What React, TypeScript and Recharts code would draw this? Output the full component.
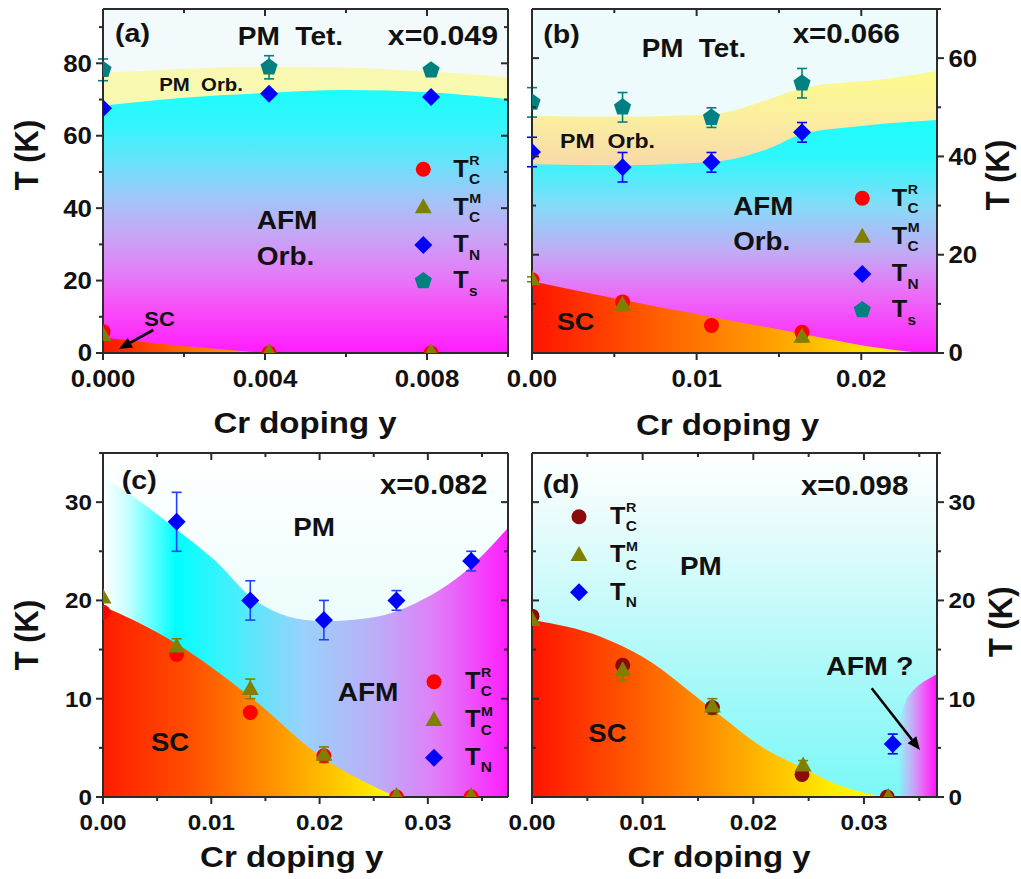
import React from 'react';
import { ComposedChart, XAxis, YAxis, Area, Scatter, ErrorBar, CartesianGrid } from 'recharts';

const PAGE_W = 1021;
const PAGE_H = 879;
const FONT = "'Liberation Sans', Arial, Helvetica, sans-serif";
const INK = '#111';
const FRAME = '#2b2b2b';

type Pt = { x: number; T: number; err?: number };

// ---------------- panel (a): x = 0.049 ----------------
const aTcR: Pt[] = [{ x: 0, T: 5.9 }, { x: 0.0041, T: 0 }, { x: 0.0081, T: 0 }];
const aTcM: Pt[] = [{ x: 0, T: 5 }, { x: 0.0041, T: 0.3 }, { x: 0.0081, T: 0.3 }];
const aTN: Pt[] = [{ x: 0, T: 67.6 }, { x: 0.0041, T: 71.6 }, { x: 0.0081, T: 70.7 }];
const aTs: Pt[] = [{ x: 0, T: 78.2, err: 3 }, { x: 0.0041, T: 78.9, err: 3.2 }, { x: 0.0081, T: 78.1, err: 1.2 }];
const aTsBound: Pt[] = [{ x: 0, T: 77.3 }, { x: 0.002, T: 78.5 }, { x: 0.004, T: 79 }, { x: 0.006, T: 78.8 }, { x: 0.008, T: 77.8 }, { x: 0.01, T: 76.2 }];
const aTNBound: Pt[] = [{ x: 0, T: 68.3 }, { x: 0.002, T: 70.5 }, { x: 0.004, T: 71.8 }, { x: 0.006, T: 72.6 }, { x: 0.008, T: 72 }, { x: 0.01, T: 70.1 }];
const aSCBound: Pt[] = [{ x: 0, T: 4.3 }, { x: 0.002, T: 1.9 }, { x: 0.004, T: 0 }];
const aXTicks = [0, 0.002, 0.004, 0.006, 0.008, 0.01];
const aXMajor = [0, 0.004, 0.008];
const aYTicks = [0, 10, 20, 30, 40, 50, 60, 70, 80, 90];
const aYMajor = [0, 20, 40, 60, 80];

// ---------------- panel (b): x = 0.066 ----------------
const bTcR: Pt[] = [{ x: 0, T: 14.9 }, { x: 0.0055, T: 10.4 }, { x: 0.0109, T: 5.6 }, { x: 0.0164, T: 4.2 }];
const bTcM: Pt[] = [{ x: 0, T: 15, err: 0.5 }, { x: 0.0055, T: 9.8, err: 1.2 }, { x: 0.0164, T: 3.3, err: 1 }];
const bTN: Pt[] = [{ x: 0, T: 40.9, err: 3 }, { x: 0.0055, T: 37.8, err: 3 }, { x: 0.0109, T: 38.8, err: 2 }, { x: 0.0164, T: 44.9, err: 2 }];
const bTs: Pt[] = [{ x: 0, T: 51, err: 3 }, { x: 0.0055, T: 50, err: 3 }, { x: 0.0109, T: 47.9, err: 2 }, { x: 0.0164, T: 54.9, err: 3 }];
const bTsBound: Pt[] = [{ x: 0, T: 48.3 }, { x: 0.0055, T: 48.1 }, { x: 0.011, T: 48.6 }, { x: 0.0143, T: 51.5 }, { x: 0.0164, T: 53.9 }, { x: 0.0218, T: 55.9 }, { x: 0.0246, T: 57.4 }];
const bTNBound: Pt[] = [{ x: 0, T: 38.4 }, { x: 0.0055, T: 38.2 }, { x: 0.011, T: 38.9 }, { x: 0.0143, T: 41.5 }, { x: 0.0164, T: 44.5 }, { x: 0.02, T: 46.2 }, { x: 0.0246, T: 47.4 }];
const bSCBound: Pt[] = [{ x: 0, T: 14.6 }, { x: 0.0055, T: 10.8 }, { x: 0.011, T: 7.3 }, { x: 0.0164, T: 3.9 }, { x: 0.02, T: 1.6 }, { x: 0.0236, T: 0 }];
const bXTicks = [0, 0.005, 0.01, 0.015, 0.02];
const bXMajor = [0, 0.01, 0.02];
const bYTicks = [0, 10, 20, 30, 40, 50, 60, 70];
const bYMajor = [0, 20, 40, 60];

// ---------------- panel (c): x = 0.082 ----------------
const cTcR: Pt[] = [{ x: 0, T: 18.8 }, { x: 0.0068, T: 14.5 }, { x: 0.0136, T: 8.6 }, { x: 0.0204, T: 4.2 }, { x: 0.0271, T: 0 }, { x: 0.034, T: 0 }];
const cTcM: Pt[] = [{ x: 0, T: 20.3 }, { x: 0.0068, T: 15.3, err: 0.8 }, { x: 0.0136, T: 11, err: 1 }, { x: 0.0204, T: 4.3, err: 0.8 }, { x: 0.0271, T: 0.1 }, { x: 0.034, T: 0.1 }];
const cTN: Pt[] = [{ x: 0.0068, T: 28, err: 3 }, { x: 0.0136, T: 20, err: 2 }, { x: 0.0204, T: 18, err: 2 }, { x: 0.0271, T: 20, err: 1 }, { x: 0.034, T: 24, err: 1 }];
const cAFMBound: Pt[] = [{ x: 0, T: 32.5 }, { x: 0.0035, T: 30 }, { x: 0.0068, T: 27.2 }, { x: 0.0104, T: 24 }, { x: 0.0136, T: 20.4 }, { x: 0.017, T: 18.4 }, { x: 0.0204, T: 17.9 }, { x: 0.025, T: 18.3 }, { x: 0.029, T: 19.8 }, { x: 0.0336, T: 23.1 }, { x: 0.0374, T: 27.4 }];
const cSCBound: Pt[] = [{ x: 0, T: 19.4 }, { x: 0.0028, T: 18 }, { x: 0.0068, T: 15.6 }, { x: 0.0136, T: 10.2 }, { x: 0.0204, T: 3.9 }, { x: 0.0244, T: 1.4 }, { x: 0.0271, T: 0 }];
const cXTicks = [0, 0.005, 0.01, 0.015, 0.02, 0.025, 0.03, 0.035];
const cXMajor = [0, 0.01, 0.02, 0.03];
const cYTicks = [0, 5, 10, 15, 20, 25, 30, 35];
const cYMajor = [0, 10, 20, 30];

// ---------------- panel (d): x = 0.098 ----------------
const dTcR: Pt[] = [{ x: 0, T: 18.4 }, { x: 0.0082, T: 13.4 }, { x: 0.0163, T: 9.1 }, { x: 0.0244, T: 2.3 }, { x: 0.0321, T: 0 }];
const dTcM: Pt[] = [{ x: 0, T: 18 }, { x: 0.0082, T: 12.9, err: 1 }, { x: 0.0163, T: 9.2, err: 0.8 }, { x: 0.0245, T: 3.2, err: 0.5 }, { x: 0.0322, T: 0 }];
const dTN: Pt[] = [{ x: 0.0326, T: 5.4, err: 1 }];
const dSCBound: Pt[] = [{ x: 0, T: 18 }, { x: 0.0062, T: 16.3 }, { x: 0.0101, T: 14.2 }, { x: 0.0161, T: 9.1 }, { x: 0.0212, T: 4.8 }, { x: 0.0244, T: 3 }, { x: 0.0273, T: 1.4 }, { x: 0.0318, T: 0 }];
const dAFMBound: Pt[] = [{ x: 0.0331, T: 7.5 }, { x: 0.0338, T: 9.8 }, { x: 0.0345, T: 10.9 }, { x: 0.0355, T: 11.8 }, { x: 0.0366, T: 12.5 }];
const dXTicks = [0, 0.005, 0.01, 0.015, 0.02, 0.025, 0.03, 0.035];
const dXMajor = [0, 0.01, 0.02, 0.03];
const dYTicks = [0, 5, 10, 15, 20, 25, 30, 35];
const dYMajor = [0, 10, 20, 30];

// ---------------- colours ----------------
const RED = '#ff0000';
const DARKRED = '#8b0a0a';
const OLIVE = '#808000';
const BLUE = '#0000ff';
const TEAL = '#008080';

// ---------------- marker shapes ----------------
const circleAt = (c: string, cx: number, cy: number) => <circle cx={cx} cy={cy} r={7.5} fill={c} />;
const triAt = (c: string, cx: number, cy: number) => (
  <polygon points={`${cx},${cy - 9} ${cx - 8.5},${cy + 6} ${cx + 8.5},${cy + 6}`} fill={c} />
);
const diaAt = (c: string, cx: number, cy: number) => (
  <polygon points={`${cx},${cy - 9} ${cx + 9},${cy} ${cx},${cy + 9} ${cx - 9},${cy}`} fill={c} />
);
const pentAt = (c: string, cx: number, cy: number) => {
  const r = 9;
  const pts = [0, 1, 2, 3, 4]
    .map((k) => {
      const a = ((-90 + k * 72) * Math.PI) / 180;
      return `${cx + r * Math.cos(a)},${cy + r * Math.sin(a)}`;
    })
    .join(' ');
  return <polygon points={pts} fill={c} />;
};
type Drawer = (c: string, cx: number, cy: number) => React.ReactElement;
const shapeOf = (d: Drawer, c: string) => (p: any) => d(c, p.cx, p.cy);

// ---------------- helpers ----------------
function mergeBounds(areas: { key: string; pts: Pt[] }[]) {
  const map = new Map<number, any>();
  areas.forEach((a) =>
    a.pts.forEach((p) => {
      const row = map.get(p.x) ?? { x: p.x };
      row[a.key] = p.T;
      map.set(p.x, row);
    })
  );
  return Array.from(map.values()).sort((u, v) => u.x - v.x);
}

type Stop = [number, string] | [number, string, number];
const stopsOf = (stops: Stop[]) =>
  stops.map((s, i) => <stop key={i} offset={s[0]} stopColor={s[1]} stopOpacity={s.length > 2 ? (s as any)[2] : 1} />);
const vGrad = (id: string, stops: Stop[]) => (
  <linearGradient id={id} key={id} x1="0" y1="0" x2="0" y2="1">
    {stopsOf(stops)}
  </linearGradient>
);
const hGrad = (id: string, stops: Stop[]) => (
  <linearGradient id={id} key={id} x1="0" y1="0" x2="1" y2="0">
    {stopsOf(stops)}
  </linearGradient>
);

type Side = 'bottom' | 'top' | 'left' | 'right';
function mkTick(side: Side, majors: number[], labels: boolean, out: boolean, font: number, fmt: (v: number) => string) {
  return (props: any) => {
    const { x, y, payload } = props;
    const v = Number(payload?.value);
    const major = majors.some((m) => Math.abs(m - v) < 1e-9);
    const len = major ? 7 : 4;
    const s = out ? 1 : -1;
    let x2 = x;
    let y2 = y;
    if (side === 'bottom') y2 = y + s * len;
    else if (side === 'top') y2 = y - s * len;
    else if (side === 'left') x2 = x - s * len;
    else x2 = x + s * len;
    let label: React.ReactNode = null;
    if (labels && major) {
      let lx = x;
      let ly = y;
      let anchor: 'start' | 'middle' | 'end' = 'middle';
      if (side === 'bottom') ly = y + 17 + 0.716 * font;
      else if (side === 'left') {
        lx = x - 11;
        ly = y + 0.36 * font;
        anchor = 'end';
      } else if (side === 'right') {
        lx = x + 11.5;
        ly = y + 0.36 * font;
        anchor = 'start';
      }
      label = (
        <text transform={`translate(${lx} ${ly}) scale(1.1 1)`} textAnchor={anchor} fontFamily={FONT} fontWeight={700} fontSize={font} fill={INK}>
          {fmt(v)}
        </text>
      );
    }
    return (
      <g>
        <line x1={x} y1={y} x2={x2} y2={y2} stroke={FRAME} strokeWidth={2} />
        {label}
      </g>
    );
  };
}

interface AreaDef {
  key: string;
  pts: Pt[];
  fill: string;
}
interface SeriesDef {
  key: string;
  pts: Pt[];
  draw: Drawer;
  color: string;
  errColor?: string;
}
interface PanelDef {
  id: string;
  plot: { l: number; t: number; r: number; b: number };
  xDomain: [number, number];
  yDomain: [number, number];
  xTicks: number[];
  xMajor: number[];
  xDigits: number;
  yTicks: number[];
  yMajor: number[];
  labelSide: 'left' | 'right';
  tickFont: number;
  bg: string;
  defs: React.ReactNode[];
  areas: AreaDef[];
  series: SeriesDef[];
}

const LEFT_W = 40;
const RIGHT_W = 4;
const TOP_H = 4;
const BOTTOM_H = 30;
const AXIS_LINE = { stroke: FRAME, strokeWidth: 2 };

function Panel({ p }: { p: PanelDef }) {
  const data = mergeBounds(p.areas);
  const margin = {
    left: p.plot.l - LEFT_W,
    top: p.plot.t - TOP_H,
    right: PAGE_W - p.plot.r - RIGHT_W,
    bottom: PAGE_H - p.plot.b - BOTTOM_H,
  };
  const xf = (v: number) => v.toFixed(p.xDigits);
  const yf = (v: number) => String(v);
  return (
    <div style={{ position: 'absolute', left: 0, top: 0 }}>
      <ComposedChart width={PAGE_W} height={PAGE_H} data={data} margin={margin}>
        <defs>{p.defs}</defs>
        <CartesianGrid fill={p.bg} stroke="none" horizontal={false} vertical={false} />
        <XAxis
          xAxisId={0}
          type="number"
          dataKey="x"
          domain={p.xDomain}
          allowDataOverflow
          ticks={p.xTicks}
          interval={0}
          height={BOTTOM_H}
          tickSize={0}
          tickMargin={0}
          tickLine={false}
          axisLine={AXIS_LINE}
          tick={mkTick('bottom', p.xMajor, true, true, p.tickFont, xf)}
        />
        <XAxis
          xAxisId="top"
          orientation="top"
          type="number"
          dataKey="x"
          domain={p.xDomain}
          allowDataOverflow
          ticks={p.xTicks}
          interval={0}
          height={TOP_H}
          tickSize={0}
          tickMargin={0}
          tickLine={false}
          axisLine={AXIS_LINE}
          tick={mkTick('top', p.xMajor, false, false, p.tickFont, xf)}
        />
        <YAxis
          yAxisId={0}
          orientation="left"
          type="number"
          domain={p.yDomain}
          allowDataOverflow
          ticks={p.yTicks}
          interval={0}
          width={LEFT_W}
          tickSize={0}
          tickMargin={0}
          tickLine={false}
          axisLine={AXIS_LINE}
          tick={mkTick('left', p.yMajor, p.labelSide === 'left', p.labelSide === 'left', p.tickFont, yf)}
        />
        <YAxis
          yAxisId="right"
          orientation="right"
          type="number"
          domain={p.yDomain}
          allowDataOverflow
          ticks={p.yTicks}
          interval={0}
          width={RIGHT_W}
          tickSize={0}
          tickMargin={0}
          tickLine={false}
          axisLine={AXIS_LINE}
          tick={mkTick('right', p.yMajor, p.labelSide === 'right', p.labelSide === 'right', p.tickFont, yf)}
        />
        {p.areas.map((a) => (
          <Area
            key={a.key}
            type="monotone"
            dataKey={a.key}
            connectNulls
            stroke="none"
            fill={a.fill}
            fillOpacity={1}
            dot={false}
            activeDot={false}
            isAnimationActive={false}
          />
        ))}
        {p.series.map((s) => (
          <Scatter
            key={s.key}
            data={s.pts.map((q) => ({ ...q, err: q.err ?? 0 }))}
            dataKey="T"
            shape={shapeOf(s.draw, s.color)}
            isAnimationActive={false}
          >
            {s.errColor ? <ErrorBar dataKey="err" direction="y" width={5} stroke={s.errColor} strokeWidth={1.6} /> : null}
          </Scatter>
        ))}
      </ComposedChart>
    </div>
  );
}

const AFM_V: Stop[] = [
  [0, '#1cfcfc'],
  [0.146, '#38f4fc'],
  [0.284, '#6ce0fa'],
  [0.42, '#a4c4f8'],
  [0.56, '#c8a4f6'],
  [0.7, '#e47cf8'],
  [0.835, '#f84cf8'],
  [1, '#ff1cff'],
];

const panels: PanelDef[] = [
  {
    id: 'a',
    plot: { l: 103, t: 9, r: 508, b: 353 },
    xDomain: [0, 0.01],
    yDomain: [0, 95],
    xTicks: aXTicks,
    xMajor: aXMajor,
    xDigits: 3,
    yTicks: aYTicks,
    yMajor: aYMajor,
    labelSide: 'left',
    tickFont: 23.5,
    bg: '#f3fafc',
    defs: [
      vGrad('a-afm', AFM_V),
      hGrad('a-sc', [
        [0, '#ff1400'],
        [0.5, '#ff6a00'],
        [1, '#ffb000'],
      ]),
    ],
    areas: [
      { key: 'ts', pts: aTsBound, fill: '#f8f8b0' },
      { key: 'tn', pts: aTNBound, fill: 'url(#a-afm)' },
      { key: 'sc', pts: aSCBound, fill: 'url(#a-sc)' },
    ],
    series: [
      { key: 'tcr', pts: aTcR, draw: circleAt, color: RED },
      { key: 'tcm', pts: aTcM, draw: triAt, color: OLIVE },
      { key: 'tn', pts: aTN, draw: diaAt, color: BLUE },
      { key: 'ts', pts: aTs, draw: pentAt, color: TEAL, errColor: TEAL },
    ],
  },
  {
    id: 'b',
    plot: { l: 532, t: 9, r: 937, b: 353 },
    xDomain: [0, 0.0246],
    yDomain: [0, 70],
    xTicks: bXTicks,
    xMajor: bXMajor,
    xDigits: 2,
    yTicks: bYTicks,
    yMajor: bYMajor,
    labelSide: 'right',
    tickFont: 23.5,
    bg: '#eefbfd',
    defs: [
      vGrad('b-yel', [
        [0, '#fbfb8c'],
        [0.17, '#fbeea0'],
        [0.33, '#f8daa8'],
        [1, '#f8daa8'],
      ]),
      vGrad('b-afm', [
        [0, '#20fcfc'],
        [0.156, '#2cf8fc'],
        [0.367, '#84dcf8'],
        [0.578, '#c4a8f6'],
        [0.747, '#ec6cf8'],
        [1, '#ff20ff'],
      ]),
      hGrad('b-sc', [
        [0, '#ff1400'],
        [0.35, '#ff6400'],
        [0.6, '#ff9c00'],
        [0.85, '#ffdc00'],
        [1, '#ffff00'],
      ]),
    ],
    areas: [
      { key: 'ts', pts: bTsBound, fill: 'url(#b-yel)' },
      { key: 'tn', pts: bTNBound, fill: 'url(#b-afm)' },
      { key: 'sc', pts: bSCBound, fill: 'url(#b-sc)' },
    ],
    series: [
      { key: 'tcr', pts: bTcR, draw: circleAt, color: RED },
      { key: 'tcm', pts: bTcM, draw: triAt, color: OLIVE, errColor: OLIVE },
      { key: 'tn', pts: bTN, draw: diaAt, color: BLUE, errColor: BLUE },
      { key: 'ts', pts: bTs, draw: pentAt, color: TEAL, errColor: TEAL },
    ],
  },
  {
    id: 'c',
    plot: { l: 103, t: 453, r: 508, b: 797 },
    xDomain: [0, 0.0374],
    yDomain: [0, 35],
    xTicks: cXTicks,
    xMajor: cXMajor,
    xDigits: 2,
    yTicks: cYTicks,
    yMajor: cYMajor,
    labelSide: 'left',
    tickFont: 22,
    bg: 'url(#c-bg)',
    defs: [
      vGrad('c-bg', [
        [0, '#ffffff'],
        [0.5, '#ecfcfc'],
        [1, '#d4f8f8'],
      ]),
      hGrad('c-afm', [
        [0, '#ffffff'],
        [0.06, '#c8ffff'],
        [0.18, '#00ffff'],
        [0.3, '#3af2fc'],
        [0.5, '#9cd0fa'],
        [0.68, '#bcacf8'],
        [0.82, '#e07ef8'],
        [1, '#ff1eff'],
      ]),
      hGrad('c-sc', [
        [0, '#ff1c00'],
        [0.3, '#ff5000'],
        [0.55, '#ff8c00'],
        [0.75, '#ffbc00'],
        [0.9, '#ffe400'],
        [1, '#ffff00'],
      ]),
    ],
    areas: [
      { key: 'afm', pts: cAFMBound, fill: 'url(#c-afm)' },
      { key: 'sc', pts: cSCBound, fill: 'url(#c-sc)' },
    ],
    series: [
      { key: 'tcr', pts: cTcR, draw: circleAt, color: RED },
      { key: 'tcm', pts: cTcM, draw: triAt, color: OLIVE, errColor: OLIVE },
      { key: 'tn', pts: cTN, draw: diaAt, color: BLUE, errColor: '#2040ff' },
    ],
  },
  {
    id: 'd',
    plot: { l: 532, t: 453, r: 937, b: 797 },
    xDomain: [0, 0.0366],
    yDomain: [0, 35],
    xTicks: dXTicks,
    xMajor: dXMajor,
    xDigits: 2,
    yTicks: dYTicks,
    yMajor: dYMajor,
    labelSide: 'right',
    tickFont: 22,
    bg: 'url(#d-bg)',
    defs: [
      vGrad('d-bg', [
        [0, '#ffffff'],
        [0.15, '#eefcfc'],
        [0.43, '#c8fafa'],
        [0.71, '#a0f8f8'],
        [1, '#7cf8f8'],
      ]),
      hGrad('d-sc', [
        [0, '#ff1400'],
        [0.3, '#ff5c00'],
        [0.5, '#ff9000'],
        [0.7, '#ffc400'],
        [0.85, '#ffec00'],
        [1, '#ffff00'],
      ]),
      hGrad('d-afm', [
        [0, '#c4b0f8', 0],
        [0.25, '#c4b0f8', 0.75],
        [0.65, '#f060f8', 1],
        [1, '#ff10ff', 1],
      ]),
    ],
    areas: [
      { key: 'sc', pts: dSCBound, fill: 'url(#d-sc)' },
      { key: 'afm', pts: dAFMBound, fill: 'url(#d-afm)' },
    ],
    series: [
      { key: 'tcr', pts: dTcR, draw: circleAt, color: DARKRED },
      { key: 'tcm', pts: dTcM, draw: triAt, color: OLIVE, errColor: OLIVE },
      { key: 'tn', pts: dTN, draw: diaAt, color: BLUE, errColor: BLUE },
    ],
  },
];

// ---------------- annotation overlay ----------------
function Txt({ x, y, size, children, anchor = 'start', rot = false }: { x: number; y: number; size: number; children: React.ReactNode; anchor?: 'start' | 'middle' | 'end'; rot?: boolean }) {
  const tr = rot ? `translate(${x} ${y}) rotate(-90) scale(1 1.1)` : `translate(${x} ${y}) scale(1.1 1)`;
  return (
    <text transform={tr} textAnchor={anchor} fontFamily={FONT} fontWeight={700} fontSize={size} fill={INK}>
      {children}
    </text>
  );
}

function Arrow({ x1, y1, x2, y2 }: { x1: number; y1: number; x2: number; y2: number }) {
  const ang = Math.atan2(y2 - y1, x2 - x1);
  const L = 13;
  const W = 5.5;
  const bx = x2 - L * Math.cos(ang);
  const by = y2 - L * Math.sin(ang);
  const px = -Math.sin(ang) * W;
  const py = Math.cos(ang) * W;
  return (
    <g>
      <line x1={x1} y1={y1} x2={bx} y2={by} stroke="#000" strokeWidth={2.6} />
      <polygon points={`${x2},${y2} ${bx + px},${by + py} ${bx - px},${by - py}`} fill="#000" />
    </g>
  );
}

function LegendRow({ mx, my, tx, draw, color, sub, sup }: { mx: number; my: number; tx: number; draw: Drawer; color: string; sub: string; sup?: string }) {
  return (
    <g>
      {draw(color, mx, my)}
      <Txt x={tx} y={my + 7.4} size={23}>
        T
      </Txt>
      <Txt x={tx + 15.8} y={my + 14.5} size={14}>
        {sub}
      </Txt>
      {sup ? (
        <Txt x={tx + 16} y={my - 4.3} size={13}>
          {sup}
        </Txt>
      ) : null}
    </g>
  );
}

const NB = '\u00A0';

function Overlay() {
  return (
    <svg width={PAGE_W} height={PAGE_H} style={{ position: 'absolute', left: 0, top: 0, pointerEvents: 'none' }}>
      {/* panel (a) */}
      <Txt x={115} y={42} size={26}>(a)</Txt>
      <Txt x={237.7} y={45} size={25.5}>{`PM${NB}${NB}Tet.`}</Txt>
      <Txt x={498} y={45} size={27.5} anchor="end">x=0.049</Txt>
      <Txt x={159.3} y={91} size={18.5}>{`PM${NB}${NB}Orb.`}</Txt>
      <Txt x={256.7} y={229.3} size={25.5}>AFM</Txt>
      <Txt x={256.7} y={265} size={25.5}>Orb.</Txt>
      <Txt x={144.3} y={325.7} size={20}>SC</Txt>
      <Arrow x1={153.3} y1={330} x2={119} y2={349} />
      <LegendRow mx={423.3} my={169.3} tx={453.3} draw={circleAt} color={RED} sub="C" sup="R" />
      <LegendRow mx={423.3} my={207.3} tx={453.3} draw={triAt} color={OLIVE} sub="C" sup="M" />
      <LegendRow mx={423.3} my={245} tx={453.3} draw={diaAt} color={BLUE} sub="N" />
      <LegendRow mx={423.3} my={281} tx={453.3} draw={pentAt} color={TEAL} sub="s" />
      <Txt x={305} y={433} size={30} anchor="middle">Cr doping y</Txt>
      <Txt x={38} y={155} size={31} anchor="middle" rot>T (K)</Txt>

      {/* panel (b) */}
      <Txt x={543.3} y={43} size={26}>(b)</Txt>
      <Txt x={641.7} y={57.3} size={25.3}>{`PM${NB}${NB}Tet.`}</Txt>
      <Txt x={900} y={43.3} size={26.8} anchor="end">x=0.066</Txt>
      <Txt x={560} y={147.7} size={21}>{`PM${NB}${NB}Orb.`}</Txt>
      <Txt x={733.3} y={215} size={25.2}>AFM</Txt>
      <Txt x={733.3} y={250} size={25.2}>Orb.</Txt>
      <Txt x={556.7} y={330} size={24.7}>SC</Txt>
      <LegendRow mx={862.3} my={198.3} tx={891.7} draw={circleAt} color={RED} sub="C" sup="R" />
      <LegendRow mx={862.3} my={236.7} tx={891.7} draw={triAt} color={OLIVE} sub="C" sup="M" />
      <LegendRow mx={862.3} my={274} tx={891.7} draw={diaAt} color={BLUE} sub="N" />
      <LegendRow mx={862.3} my={310} tx={891.7} draw={pentAt} color={TEAL} sub="s" />
      <Txt x={727.5} y={435} size={30} anchor="middle">Cr doping y</Txt>
      <Txt x={1009} y={175} size={31} anchor="middle" rot>T (K)</Txt>

      {/* panel (c) */}
      <Txt x={121.7} y={489.3} size={26}>(c)</Txt>
      <Txt x={487.3} y={494} size={26.8} anchor="end">x=0.082</Txt>
      <Txt x={293.3} y={536} size={25.3}>PM</Txt>
      <Txt x={337.7} y={700.7} size={25.5}>AFM</Txt>
      <Txt x={151} y={750.7} size={25}>SC</Txt>
      <LegendRow mx={434} my={681.7} tx={465} draw={circleAt} color={RED} sub="C" sup="R" />
      <LegendRow mx={434} my={720} tx={465} draw={triAt} color={OLIVE} sub="C" sup="M" />
      <LegendRow mx={434} my={757.7} tx={465} draw={diaAt} color={BLUE} sub="N" />
      <Txt x={291.7} y={867} size={30} anchor="middle">Cr doping y</Txt>
      <Txt x={38} y={635} size={31} anchor="middle" rot>T (K)</Txt>

      {/* panel (d) */}
      <Txt x={542.7} y={493.3} size={26}>(d)</Txt>
      <Txt x={908.3} y={495} size={26.8} anchor="end">x=0.098</Txt>
      <Txt x={680} y={575} size={25.3}>PM</Txt>
      <Txt x={588.3} y={741.7} size={25}>SC</Txt>
      <Txt x={826} y={675} size={26}>AFM ?</Txt>
      <Arrow x1={871.7} y1={688.3} x2={920} y2={750} />
      <LegendRow mx={579} my={516.7} tx={610} draw={circleAt} color={DARKRED} sub="C" sup="R" />
      <LegendRow mx={579} my={555} tx={610} draw={triAt} color={OLIVE} sub="C" sup="M" />
      <LegendRow mx={579} my={592.3} tx={610} draw={diaAt} color={BLUE} sub="N" />
      <Txt x={719} y={866.7} size={30} anchor="middle">Cr doping y</Txt>
      <Txt x={1012} y={621.7} size={31} anchor="middle" rot>T (K)</Txt>
    </svg>
  );
}

export default function App() {
  return (
    <div style={{ position: 'relative', width: PAGE_W, height: PAGE_H, background: '#ffffff', overflow: 'hidden', fontFamily: FONT }}>
      <style>{'body{margin:0;}'}</style>
      {panels.map((p) => (
        <Panel key={p.id} p={p} />
      ))}
      <Overlay />
    </div>
  );
}
